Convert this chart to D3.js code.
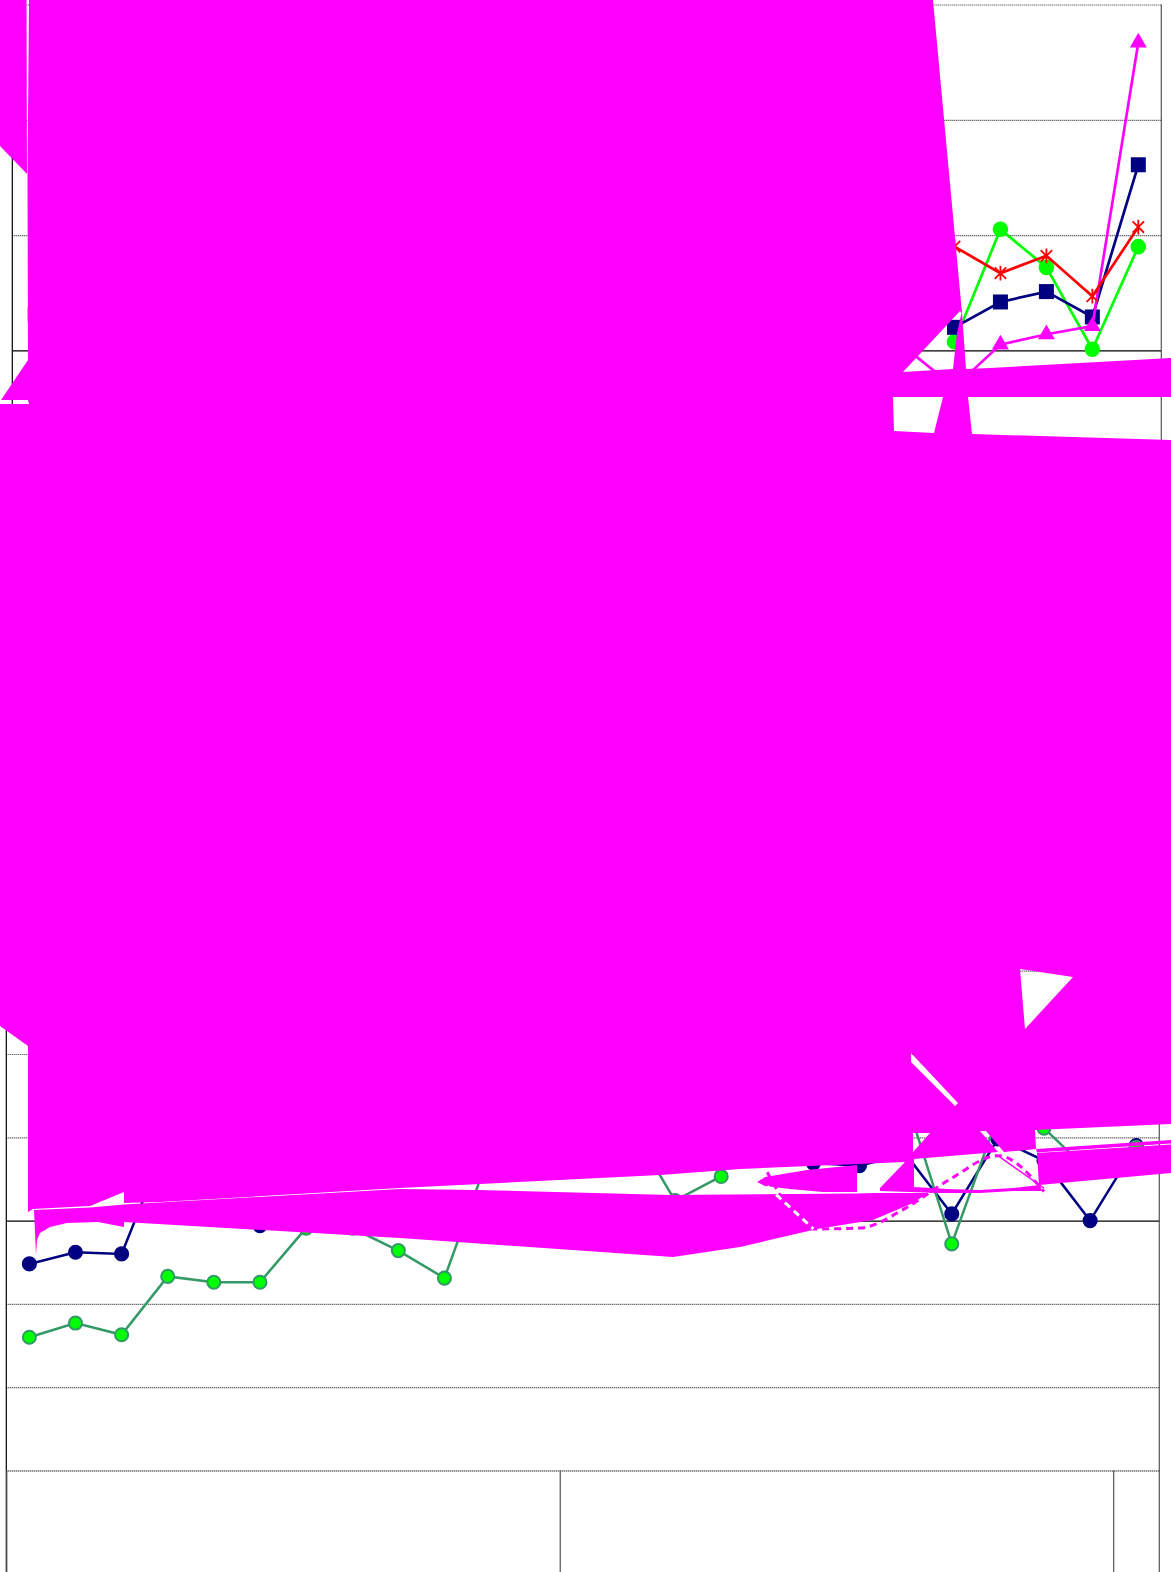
<!DOCTYPE html>
<html>
<head>
<meta charset="utf-8">
<style>
html,body{margin:0;padding:0;background:#fff;overflow:hidden}
svg{display:block}
.grid line{stroke:#333;stroke-width:1.2;stroke-dasharray:1 1}
.grid path{display:none}
</style>
<script src="https://cdn.jsdelivr.net/npm/d3@7"></script>
</head>
<body>
<div id="chart"></div>
<script>
// 25 periods, two years and a bit, year edges every 12 periods
var periods = d3.range(25);
var yearEdges = [0, 12, 24];
var upperTicks = [-1, 0, 1, 2, 3];
var lowerTicks = [-3, -2, -1, 0, 1, 2, 3, 4];
var _ = null; // hidden behind the magenta, can't be read

// upper panel
var upperNavy = [0.31,_,_,_,_,_,_,_,_,_,_,_,_,_,_,_,_,_,_,_,0.20,0.42,0.51,0.29,1.61];
var upperLime = [_,_,_,_,_,_,_,_,_,_,_,_,_,_,_,_,_,_,_,_,0.075,1.05,0.72,0.01,0.90];
var upperRed = [_,_,_,_,_,_,_,_,_,_,_,_,_,_,_,_,_,_,_,_,0.90,0.67,0.82,0.47,1.07];
var upperMagenta = [_,_,_,_,_,_,_,_,_,_,_,_,_,_,_,_,_,_,_,0.0,-0.32,0.05,0.14,0.21,2.67];

// lower panel
var lowerNavy = [-0.52,-0.38,-0.40,0.98,_,-0.06,_,_,_,_,_,_,_,_,_,_,_,0.69,0.66,0.80,0.08,0.98,0.72,0.0,0.90];
var lowerGreen = [-1.40,-1.23,-1.37,-0.67,-0.74,-0.74,-0.09,-0.09,-0.36,-0.69,0.84,_,_,1.17,0.24,0.53,_,_,_,1.47,-0.28,1.25,1.11,0.58,0.88];
var lowerDashed = [_,_,_,_,_,_,_,_,_,_,_,_,_,_,_,_,0.58,-0.10,-0.09,0.15,0.51,0.78,0.35];
var lowerDashedOnFill = [_,_,_,_,_,_,_,_,_,_,_,_,_,_,_,_,0.41,-0.10];
var lowerThin = [_,_,_,_,_,_,_,_,_,_,_,_,_,_,_,_,_,_,_,_,_,0.78,0.39];

// outlines of the magenta spill, in hundreds on its own two scales
var spillCorner = [[0,0],[.265,0],[.27,1.74],[0,1.46]];
var spillMain = [[.29,0],[9.33,0],[9.62,3.13],[9.66,3.69],[9.90,3.68],[11.71,3.58],[11.71,3.97],[9.68,3.97],[9.72,4.34],[11.71,4.40],
  [11.71,11.24],[10.35,11.30],[10.36,11.49],[10.04,11.52],[9.86,11.31],[9.80,11.31],[9.98,11.52],[9.14,11.59],[9.14,11.87],
  [9.47,11.89],[9.80,11.90],[10.13,11.88],[10.40,11.85],[10.42,11.91],[10.13,11.91],[9.80,11.93],[9.40,11.93],[8.80,11.91],[8.80,11.88],
  [9.05,11.62],[7.40,11.69],[6.60,11.75],[4.00,11.88],[1.60,12.02],[1.24,12.03],[1.24,11.92],[.90,12.06],[.33,12.09],[.28,12.12],
  [.28,10.46],[0,10.26],[0,4.04],[.29,4.04],[.28,4.00],[.01,4.00],[.28,3.60],[.275,1.74]];
var spillGapLeftOfSpike = [[9.03,3.72],[9.60,3.11],[9.615,3.13],[9.57,3.33],[9.53,3.69]];
var spillGapTrapezoid = [[8.93,3.97],[8.94,4.31],[9.34,4.33],[9.43,3.97]];
var spillGapTriangle = [[10.20,9.69],[10.73,9.77],[10.25,10.29]];
var spillGapSliver = [[9.11,10.53],[9.58,11.03],[9.55,11.06],[9.11,10.62]];
var spillGapSmall = [[9.13,11.33],[9.30,11.33],[9.13,11.52]];
var spillBand = [[.34,12.10],[.90,12.075],[1.24,12.045],[4.00,11.89],[4.77,11.90],[6.70,11.95],[8.57,11.935],[8.75,11.93],[9.37,11.93],
  [9.30,11.92],[9.13,12.03],[8.73,12.20],[8.17,12.29],[7.40,12.47],[6.73,12.57],[5.00,12.45],[4.00,12.38],[1.24,12.22],[1.24,12.27],
  [.98,12.22],[.67,12.23],[.50,12.27],[.40,12.33],[.37,12.40],[.36,12.55]];
var spillLeaf = [[7.57,11.82],[7.65,11.77],[8.07,11.70],[8.57,11.65],[8.57,11.92],[8.23,11.92],[7.90,11.89],[7.65,11.86]];
var spillRightTop = [[10.36,11.49],[11.71,11.40],[11.71,11.435],[10.37,11.525]];
var spillRightBand = [[10.37,11.53],[11.71,11.445],[11.71,11.73],[10.39,11.85]];

var width = 1171, height = 1572;
var svg = d3.select('#chart').append('svg').attr('width', width).attr('height', height);

var upperX = d3.scaleBand().domain(periods).range([12.3, 1161.3]);
var lowerX = d3.scaleBand().domain(periods).range([6.3, 1159.3]);
var edgeX = d3.scaleLinear().domain([0, 25]).range([6.3, 1159.3]);
var upperY = d3.scaleLinear().domain([-1, 3]).range([465.7, 4.5]);
var lowerY = d3.scaleLinear().domain([-3, 5]).range([1470.5, 804.1]);
var spillX = d3.scaleLinear().domain([0, 11.71]).range([0, 1171]);
var spillY = d3.scaleLinear().domain([0, 15.72]).range([0, 1572]);

// vertical stroke plus an X, wider than d3.symbolAsterisk
var starSymbol = {
    draw: function (ctx, size) {
        var r = Math.sqrt(size) * 0.6, k = r * 0.78;
        ctx.moveTo(0, -r); ctx.lineTo(0, r);
        ctx.moveTo(-k, -k); ctx.lineTo(k, k);
        ctx.moveTo(-k, k); ctx.lineTo(k, -k);
    }
};

function gridAxis(scale, ticks, left, w, zero) {
    var g = svg.append('g').attr('class', 'grid').attr('transform', 'translate(' + left + ',0)')
        .call(d3.axisLeft(scale).tickValues(ticks).tickSize(-w).tickFormat(''));
    g.selectAll('.tick line').filter(function (d) { return d === zero; })
        .style('stroke', '#000').style('stroke-dasharray', 'none');
    return g;
}
function frameLine(x, y0, y1, color) {
    svg.append('line').attr('x1', x).attr('x2', x).attr('y1', y0).attr('y2', y1)
        .attr('stroke', color).attr('stroke-width', 1.2);
}

gridAxis(upperY, upperTicks, 12.3, 1149, 0);
var lowerGrid = gridAxis(lowerY, lowerTicks, 6.3, 1153, 0);
lowerGrid.selectAll('.tick line').filter(function (d) { return d === -3; })
    .style('stroke-width', 2).style('stroke', '#666');

frameLine(12.3, 4.5, 465.7, '#000');
frameLine(1161.3, 4.5, 465.7, '#555');
frameLine(6.3, 804.1, 1572, '#000');
frameLine(1159.3, 804.1, 1572, '#555');

// year separators under the lower panel
svg.append('g').attr('transform', 'translate(0,1470.5)')
    .call(d3.axisBottom(edgeX).tickValues(yearEdges).tickSize(102).tickFormat(''))
    .call(function (g) {
        g.select('.domain').remove();
        g.selectAll('.tick line').attr('stroke', '#555').attr('stroke-width', 1.2);
    });

function drawLine(values, x, y, color, w, curve, dash) {
    var line = d3.line()
        .defined(function (d) { return d !== null; })
        .x(function (d, i) { return x(i) + x.bandwidth() / 2; })
        .y(function (d) { return y(d); })
        .curve(curve || d3.curveLinear);
    svg.append('path').attr('d', line(values)).attr('fill', 'none')
        .attr('stroke', color).attr('stroke-width', w)
        .attr('stroke-dasharray', dash || null);
}
function drawMarks(values, x, y, type, size, fill, stroke, sw) {
    var sym = d3.symbol().type(type).size(size);
    svg.append('g').selectAll('path')
        .data(values.map(function (v, i) { return { v: v, i: i }; }).filter(function (d) { return d.v !== null; }))
        .join('path')
        .attr('d', sym)
        .attr('transform', function (d) {
            return 'translate(' + (x(d.i) + x.bandwidth() / 2) + ',' + y(d.v) + ')';
        })
        .attr('fill', fill).attr('stroke', stroke || 'none').attr('stroke-width', sw || 0);
}

// upper panel series
drawLine(upperLime, upperX, upperY, '#00ff00', 2.7);
drawMarks(upperLime, upperX, upperY, d3.symbolCircle, 190, '#00ff00');
drawLine(upperNavy, upperX, upperY, '#000080', 2.7);
drawMarks(upperNavy, upperX, upperY, d3.symbolSquare, 225, '#000080');
drawLine(upperMagenta, upperX, upperY, '#ff00ff', 2.7);
drawMarks(upperMagenta, upperX, upperY, d3.symbolTriangle, 125, '#ff00ff');
drawLine(upperRed, upperX, upperY, '#ff0000', 2.7);
drawMarks(upperRed, upperX, upperY, starSymbol, 150, 'none', '#ff0000', 1.8);

// lower panel series
drawLine(lowerNavy, lowerX, lowerY, '#000080', 2.5);
drawMarks(lowerNavy, lowerX, lowerY, d3.symbolCircle, 180, '#000080');
drawLine(lowerGreen, lowerX, lowerY, '#339966', 2.5);
drawMarks(lowerGreen, lowerX, lowerY, d3.symbolCircle, 135, '#00ff00', '#339966', 2);

// the spill
var ring = d3.line().x(function (d) { return spillX(d[0]); }).y(function (d) { return spillY(d[1]); })
    .curve(d3.curveLinearClosed);
var spillMainPath = [spillMain, spillGapLeftOfSpike, spillGapTrapezoid, spillGapTriangle, spillGapSliver, spillGapSmall]
    .map(ring).join('');
svg.append('path').attr('d', spillMainPath).attr('fill', '#ff00ff').attr('fill-rule', 'evenodd');
[spillCorner, spillBand, spillLeaf, spillRightTop, spillRightBand].forEach(function (r) {
    svg.append('path').attr('d', ring(r)).attr('fill', '#ff00ff');
});

drawLine(lowerDashed, lowerX, lowerY, '#ff00ff', 3, d3.curveMonotoneX, '7 5');
drawLine(lowerDashedOnFill, lowerX, lowerY, '#fff', 3, d3.curveLinear, '7 5');
drawLine(lowerThin, lowerX, lowerY, '#ff00ff', 1.4);
</script>
</body>
</html>
